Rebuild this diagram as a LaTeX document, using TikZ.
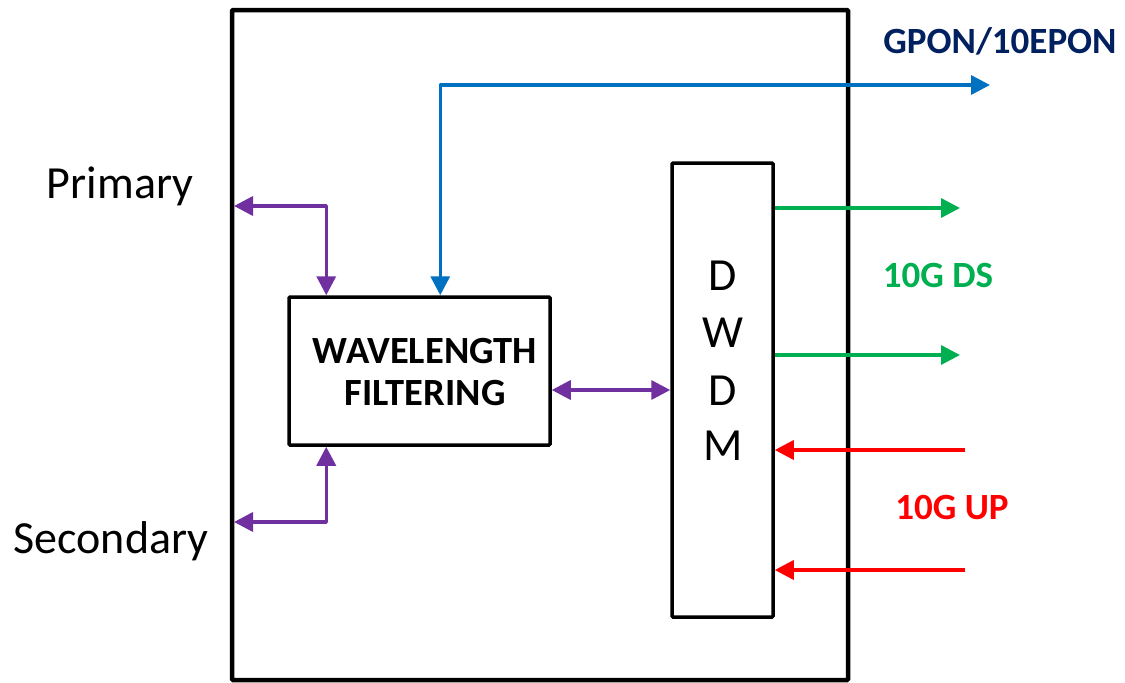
\documentclass[tikz,border=0pt]{standalone}
\usepackage{fontspec}
\setmainfont{Carlito}
\usetikzlibrary{arrows.meta}
\definecolor{cpurple}{HTML}{7030A0}
\definecolor{cblue}{HTML}{0070C0}
\definecolor{cgreen}{HTML}{00B050}
\definecolor{cred}{HTML}{FF0000}
\definecolor{cnavy}{HTML}{002060}
\begin{document}
\begin{tikzpicture}[x=1pt,y=-1pt,
  blk/.style={draw=black, line width=3.5pt, fill=white, inner sep=0pt, rounded corners=1pt},
  conn/.style={line width=3.5pt, line join=round, arrows={-Triangle[length=19pt,width=19pt]}},
  both/.style={conn, arrows={Triangle[length=19pt,width=19pt]-Triangle[length=19pt,width=19pt]}},
  lbl/.style={inner sep=0pt, anchor=base},
  big/.style={lbl, font=\fontsize{46}{50}\selectfont},
  bold/.style={lbl, font=\fontsize{37}{40}\selectfont\bfseries}]
\useasboundingbox (0,0) rectangle (1125,683);
\fill[white] (0,0) rectangle (1125,683);
\node[blk, line width=4.5pt, minimum width=616pt, minimum height=670pt] (outer) at (540,345) {};
\node[blk, minimum width=261pt, minimum height=148pt] (wave) at (419.5,371) {};
\node[blk, minimum width=101pt, minimum height=454pt] (dwdm) at (722.5,390) {};
% texts
\node[lbl, font=\fontsize{38.5}{42}\selectfont\bfseries] (w1) at (425,363) {WAVELENGTH};
\node[lbl, font=\fontsize{38.5}{42}\selectfont\bfseries] (w2) at (425,405) {FILTERING};
\node[big] (d1) at (723,290) {D};
\node[big] (d2) at (723,347) {W};
\node[big] (d3) at (723,405) {D};
\node[big] (d4) at (723,460) {M};
\node[big] (prim) at (120,198) {Primary};
\node[big] (sec) at (111,553) {Secondary};
\node[bold, text=cnavy] (gpon) at (1000,53) {GPON/10EPON};
\node[bold, text=cgreen] (ds) at (938,287) {10G DS};
\node[bold, text=cred] (up) at (952,519) {10G UP};
% coordinates
\coordinate (pt) at (234,206);
\coordinate (pb) at (234,522);
\coordinate (pm) at (600,390);
\coordinate (bt) at (990,85);
\coordinate (g1) at (960,208);
\coordinate (g2) at (960,355);
\coordinate (r1) at (965,450);
\coordinate (r2) at (965,570);
% connectors
\draw[both, cpurple] (pt) -| ([xshift=39pt]wave.north west);
\draw[both, cpurple] (pb) -| ([xshift=39pt]wave.south west);
\draw[both, cpurple] (wave.east |- pm) -- (dwdm.west |- pm);
\draw[both, cblue] (bt) -| ([xshift=153pt]wave.north west);
\draw[conn, cgreen] (dwdm.east |- g1) -- (g1);
\draw[conn, cgreen] (dwdm.east |- g2) -- (g2);
\draw[conn, cred] (r1) -- (dwdm.east |- r1);
\draw[conn, cred] (r2) -- (dwdm.east |- r2);
\end{tikzpicture}
\end{document}
